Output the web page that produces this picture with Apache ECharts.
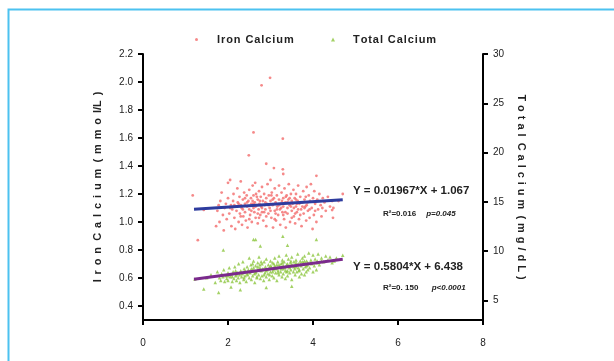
<!DOCTYPE html>
<html>
<head>
<meta charset="utf-8">
<script src="https://cdn.jsdelivr.net/npm/echarts@6/dist/echarts.min.js"></script>
<style>
  html, body { margin: 0; padding: 0; background: #fff; }
  #main { width: 614px; height: 361px; }
</style>
</head>
<body>
<div id="main"></div>
<script>
// tick labels
var xTicks = [0, 2, 4, 6, 8];
var leftTicks = [0.4, 0.6, 0.8, 1.0, 1.2, 1.4, 1.6, 1.8, 2.0, 2.2];
var rightTicks = [5, 10, 15, 20, 25, 30];

// Iron Calcium (mmol/L) vs x
var ironCalcium = [
  [2.99,2.03],[2.79,1.976],[2.6,1.64],[3.29,1.595],[2.49,1.476],[2.9,1.416],[3.08,1.385],[3.29,1.376],
  [3.3,1.343],[4.08,1.33],[1.29,0.87],[1.17,1.19],[1.43,1.086],[3.99,0.95],[4.47,1.03],[4.7,1.2],
  [4.6,1.15],[4.48,1.1],[4.45,1.085],
  [1.72,0.97],[1.75,1.08],[1.78,1.12],[1.8,1.0],[1.82,1.15],[1.85,1.21],[1.88,1.05],[1.9,0.94],
  [1.92,1.1],[1.95,1.13],[1.97,1.02],[2.0,1.17],[2.0,1.28],
  [2.03,1.06],[2.05,1.3],[2.07,1.12],[2.08,0.97],[2.1,1.09],[2.12,1.15],[2.13,1.2],[2.15,1.03],
  [2.17,0.95],[2.18,1.11],[2.2,1.08],[2.22,1.24],[2.23,1.14],[2.25,1.0],[2.27,1.18],[2.28,1.06],
  [2.3,1.12],[2.3,1.29],
  [2.32,1.1],[2.33,0.98],[2.35,1.16],[2.36,1.04],[2.38,1.21],[2.4,1.13],[2.4,1.07],[2.42,1.01],
  [2.44,1.19],[2.45,1.11],[2.46,0.96],[2.48,1.15],[2.5,1.09],[2.5,1.23],[2.52,1.05],[2.54,1.17],
  [2.55,1.13],[2.56,1.0],[2.58,1.26],[2.6,1.1],[2.6,1.19],
  [2.62,1.07],[2.63,1.14],[2.64,1.28],[2.65,1.03],[2.66,1.2],[2.68,1.12],[2.7,1.16],[2.7,0.99],
  [2.72,1.09],[2.73,1.22],[2.74,1.13],[2.76,1.05],[2.77,1.18],[2.78,1.11],[2.8,1.25],[2.8,1.07],
  [2.82,1.15],[2.83,1.01],[2.85,1.2],[2.86,1.12],[2.88,1.09],[2.9,1.17],[2.9,0.97],
  [2.92,1.13],[2.93,1.27],[2.95,1.06],[2.96,1.19],[2.98,1.1],[3.0,1.15],[3.0,1.3],[3.02,1.03],
  [3.03,1.21],[3.05,1.12],[3.06,0.96],[3.08,1.17],[3.1,1.08],[3.1,1.24],[3.12,1.14],[3.13,1.01],
  [3.15,1.19],[3.16,1.11],[3.18,1.05],[3.2,1.16],[3.2,1.26],
  [3.22,1.09],[3.23,0.98],[3.25,1.13],[3.26,1.21],[3.28,1.07],[3.3,1.17],[3.3,1.11],[3.32,1.02],
  [3.33,1.24],[3.35,1.14],[3.36,0.96],[3.38,1.19],[3.4,1.1],[3.4,1.06],[3.42,1.16],[3.43,1.27],
  [3.45,1.12],[3.46,1.0],[3.48,1.2],[3.5,1.08],[3.5,1.15],
  [3.52,1.13],[3.54,1.23],[3.55,1.04],[3.57,1.17],[3.58,0.99],[3.6,1.11],[3.6,1.2],[3.62,1.07],
  [3.64,1.15],[3.65,1.26],[3.67,1.02],[3.68,1.13],[3.7,1.18],[3.72,1.09],[3.73,0.97],[3.75,1.14],
  [3.77,1.22],[3.78,1.06],[3.8,1.16],
  [3.82,1.11],[3.84,1.01],[3.85,1.25],[3.87,1.14],[3.88,1.08],[3.9,1.19],[3.92,1.03],[3.93,1.15],
  [3.95,1.27],[3.97,1.1],[4.0,1.17],[4.02,1.05],[4.03,1.22],[4.05,1.13],[4.08,1.0],[4.1,1.16],
  [4.12,1.09],[4.15,1.2],[4.18,1.12],[4.2,1.04],[4.23,1.17],[4.27,1.14],[4.3,1.08],[4.35,1.18],
  [4.4,1.11],[4.45,1.15],
  [2.35,1.09],[2.45,1.14],[2.55,1.08],[2.65,1.11],[2.75,1.15],[2.85,1.07],[2.95,1.12],[3.05,1.16],
  [3.15,1.09],[3.25,1.1],[3.35,1.07],[3.45,1.17],[3.55,1.1],[3.65,1.09],[3.75,1.11],[3.85,1.12],
  [2.4,1.17],[2.6,1.13],[2.8,1.1],[3.0,1.08],[3.2,1.12],[3.4,1.14],[3.6,1.16],[3.8,1.1],
  [2.3,1.04],[2.5,1.02],[2.7,1.06],[2.9,1.04],[3.1,1.02],[3.3,1.05],[3.5,1.03],[3.7,1.05],
  [2.25,1.13],[2.68,1.18],[3.02,1.19],[3.36,1.18],[3.62,1.13],[3.92,1.09],[2.15,1.12],[4.05,1.08],
  [2.58,1.15],[3.12,1.06],[3.48,1.11],[2.88,1.14],[3.27,1.15],[2.73,1.03],[3.58,1.06],[3.83,1.18],
  [2.05,1.1],[4.22,1.1]
];

// Total Calcium (mg/dL) vs x
var totalCalcium = [
  [2.6,11.16],[2.65,11.16],[3.29,11.5],[4.08,11.16],[2.76,10.5],[1.89,10.1],[3.4,10.6],[1.43,6.15],
  [1.78,5.78],[2.07,6.35],[2.29,6.08],[2.9,6.3],[3.5,6.42],[4.7,9.56],
  [1.22,7.15],[1.5,7.3],[1.6,7.6],[1.7,6.8],[1.75,7.9],[1.8,7.3],
  [1.83,7.0],[1.85,7.7],[1.88,7.4],[1.9,8.1],[1.92,6.9],[1.95,7.5],[1.97,7.2],[2.0,7.8],[2.0,7.0],
  [2.03,8.3],[2.05,7.4],[2.08,7.6],[2.1,6.9],
  [2.12,7.9],[2.14,7.2],[2.16,8.4],[2.18,7.5],[2.2,7.0],[2.22,7.8],[2.24,7.3],[2.25,8.7],[2.27,7.6],
  [2.28,6.8],[2.3,8.0],[2.32,7.4],[2.34,7.7],[2.35,8.9],[2.37,7.1],[2.38,8.2],[2.4,7.5],
  [2.42,7.9],[2.43,6.9],[2.45,8.4],[2.46,7.6],[2.48,8.1],[2.5,7.3],[2.5,9.3],[2.52,7.8],[2.54,8.6],
  [2.55,7.1],[2.57,8.0],[2.58,7.5],[2.6,9.0],[2.6,8.3],[2.62,7.7],[2.63,6.8],[2.65,8.5],[2.66,7.9],
  [2.68,7.3],[2.7,8.8],
  [2.7,8.1],[2.72,7.6],[2.73,9.4],[2.75,8.3],[2.76,7.2],[2.78,8.0],[2.8,8.7],[2.8,7.5],[2.82,8.2],
  [2.84,7.0],[2.85,8.9],[2.87,7.8],[2.88,8.4],[2.9,7.4],[2.9,9.2],[2.92,8.1],[2.94,7.7],[2.95,8.6],
  [2.97,7.1],[2.98,8.3],[3.0,7.9],
  [3.0,9.0],[3.02,8.4],[3.04,7.5],[3.05,8.8],[3.07,8.1],[3.08,7.3],[3.1,9.3],[3.1,8.5],[3.12,7.8],
  [3.14,8.2],[3.15,7.0],[3.17,8.9],[3.18,8.0],[3.2,7.6],[3.2,9.5],[3.22,8.4],[3.24,7.9],[3.25,8.7],
  [3.27,7.4],[3.28,9.1],[3.3,8.2],
  [3.3,7.7],[3.32,8.9],[3.34,8.3],[3.35,7.2],[3.37,9.6],[3.38,8.6],[3.4,8.0],[3.4,7.5],[3.42,9.2],
  [3.44,8.4],[3.45,7.8],[3.47,8.8],[3.48,8.1],[3.5,7.1],[3.5,9.4],[3.52,8.5],[3.54,7.9],[3.55,8.9],
  [3.57,8.2],[3.58,7.6],[3.6,9.1],
  [3.6,8.4],[3.62,7.9],[3.64,9.7],[3.65,8.7],[3.67,8.0],[3.68,7.4],[3.7,9.0],[3.72,8.5],[3.73,7.7],
  [3.75,9.3],[3.77,8.2],[3.78,8.8],[3.8,7.6],[3.8,9.5],[3.82,8.4],[3.84,7.9],[3.85,9.0],[3.87,8.6],
  [3.88,8.1],
  [3.9,9.8],[3.92,8.3],[3.95,9.1],[3.97,8.7],[4.0,7.9],[4.0,9.6],[4.03,8.5],[4.05,9.2],[4.08,8.1],
  [4.1,9.0],[4.12,9.7],[4.15,8.6],[4.2,9.3],[4.25,8.9],[4.3,9.5],[4.35,9.1],[4.4,9.4],[4.45,8.8],
  [4.5,9.0],[4.55,9.3],
  [2.3,7.8],[2.4,8.0],[2.5,7.9],[2.6,8.0],[2.7,8.4],[2.8,8.1],[2.9,8.0],[3.0,8.5],[3.1,8.3],
  [3.2,8.6],[3.3,8.5],[3.4,8.7],[3.5,8.6],[3.6,8.8],[3.7,8.7],[3.8,9.0],[2.45,7.7],[2.55,8.2],
  [2.65,7.8],[2.75,8.6],[2.85,7.6],[2.95,8.2],[3.05,7.9],[3.15,8.6],[3.25,8.2],[3.35,8.0],[3.45,8.3],
  [3.55,8.4],[3.65,8.3],[3.75,8.9],[3.85,8.5],[3.95,8.8],[2.2,7.6],[2.1,7.4],[2.0,7.5],[4.1,8.8],
  [4.2,9.0],[2.58,8.7],[2.78,8.9],[3.08,8.7],[3.28,8.8],[3.48,9.0],[2.68,7.4],[2.98,7.6],[3.18,7.8],
  [3.38,7.9],[2.38,7.3],[2.18,8.0],[3.68,8.1],[3.88,8.8]
];

// printed fits: [slope, intercept], over the x range of the data
var ironFit = [0.01967, 1.067];
var totalFit = [0.5804, 6.438];
var fitRange = [1.2, 4.7];

function fitLine(f) {
  return fitRange.map(function (x) { return [x, f[0] * x + f[1]]; });
}
// wide tracking like the original figure
function sp(s, gap) { return s.split('').join(gap); }

var FONT = '"Liberation Sans", Arial, sans-serif';
var HAIR = '\u200A';

var myChart = echarts.init(document.getElementById('main'));

var option = {
  backgroundColor: '#fff',
  animation: false,
  textStyle: { fontFamily: FONT },
  grid: { left: 143, right: 131, top: 54, bottom: 41 },
  legend: [
    {
      left: 190, top: 29,
      data: ['Iron Calcium'],
      icon: 'circle', itemWidth: 3, itemHeight: 3,
      formatter: function (n) { return sp(n, HAIR); },
      textStyle: { fontSize: 11, fontWeight: 'bold', color: '#222', padding: [0, 0, 0, 14] }
    },
    {
      left: 326, top: 29,
      data: ['Total Calcium'],
      icon: 'triangle', itemWidth: 4, itemHeight: 4,
      formatter: function (n) { return sp(n, HAIR); },
      textStyle: { fontSize: 11, fontWeight: 'bold', color: '#222', padding: [0, 0, 0, 13] }
    }
  ],
  xAxis: {
    type: 'value', min: 0, max: 8, interval: 2,
    axisLine: { onZero: false, lineStyle: { color: '#000', width: 2 } },
    axisTick: { length: 5, lineStyle: { color: '#000', width: 2 } },
    axisLabel: { margin: 18, fontSize: 10, color: '#222',
      customValues: xTicks },
    splitLine: { show: false }
  },
  yAxis: [
    {
      type: 'value', min: 0.3, max: 2.2, position: 'left',
      name: sp('Iron', ' ' + HAIR + HAIR) + '  ' + sp('Calcium', ' ' + HAIR + HAIR) + '  ' +
        sp('(mmol', ' ' + HAIR + HAIR) + '/L' + ' ' + HAIR + HAIR + ')',
      nameLocation: 'middle', nameGap: 40,
      nameTextStyle: { fontSize: 11, fontWeight: 'bold', color: '#222' },
      axisLine: { show: true, lineStyle: { color: '#000', width: 2 } },
      axisTick: { show: true, length: 5, lineStyle: { color: '#000', width: 2 },
        customValues: leftTicks },
      axisLabel: { margin: 10, fontSize: 10, color: '#222', customValues: leftTicks,
        formatter: function (v) { return v.toFixed(1); } },
      splitLine: { show: false }
    },
    {
      type: 'value', min: 3, max: 30, position: 'right',
      name: sp('Total', ' ' + HAIR) + '  ' + sp('Calcium', ' ' + HAIR) + '  ' +
        sp('(mg/dL)', ' ' + HAIR),
      nameLocation: 'middle', nameGap: 33, nameRotate: -90,
      nameTextStyle: { fontSize: 11, fontWeight: 'bold', color: '#222' },
      axisLine: { show: true, lineStyle: { color: '#000', width: 2 } },
      axisTick: { show: true, length: 5, lineStyle: { color: '#000', width: 2 },
        customValues: rightTicks },
      axisLabel: { margin: 10, fontSize: 10, color: '#222', customValues: rightTicks },
      splitLine: { show: false }
    }
  ],
  series: [
    {
      name: 'Iron Calcium', type: 'scatter', yAxisIndex: 0,
      symbol: 'circle', symbolSize: 2.8,
      itemStyle: { color: '#f26c6c' },
      data: ironCalcium
    },
    {
      name: 'Total Calcium', type: 'scatter', yAxisIndex: 1,
      symbol: 'triangle', symbolSize: 3.5,
      itemStyle: { color: '#8cc63f' },
      data: totalCalcium
    },
    {
      name: 'fit1', type: 'line', yAxisIndex: 0, z: 5,
      symbol: 'none', silent: true,
      lineStyle: { color: '#2e3c9e', width: 3 },
      data: fitLine(ironFit)
    },
    {
      name: 'fit2', type: 'line', yAxisIndex: 1, z: 5,
      symbol: 'none', silent: true,
      lineStyle: { color: '#7a2a8c', width: 3 },
      data: fitLine(totalFit)
    }
  ],
  graphic: [
    {
      type: 'rect', silent: true, z: -1,
      shape: { x: 8.5, y: 9.5, width: 700, height: 400 },
      style: { fill: 'none', stroke: '#4cc2f0', lineWidth: 2 }
    },
    {
      type: 'text', left: 353, top: 185,
      style: { text: 'Y = 0.01967*X + 1.067', fontSize: 11.5, fontWeight: 'bold',
        fontFamily: FONT, fill: '#222' }
    },
    {
      type: 'text', left: 383, top: 208,
      style: {
        text: '{a|R²=0.016}   {b|p=0.045}',
        fontFamily: FONT, fill: '#222',
        rich: {
          a: { fontSize: 8, fontWeight: 'bold', fontFamily: FONT, fill: '#222' },
          b: { fontSize: 8, fontWeight: 'bold', fontStyle: 'italic', fontFamily: FONT, fill: '#222' }
        }
      }
    },
    {
      type: 'text', left: 353, top: 261,
      style: { text: 'Y = 0.5804*X + 6.438', fontSize: 11.5, fontWeight: 'bold',
        fontFamily: FONT, fill: '#222' }
    },
    {
      type: 'text', left: 383, top: 282,
      style: {
        text: '{a|R²=0. 150}    {b|p<0.0001}',
        fontFamily: FONT, fill: '#222',
        rich: {
          a: { fontSize: 8, fontWeight: 'bold', fontFamily: FONT, fill: '#222' },
          b: { fontSize: 8, fontWeight: 'bold', fontStyle: 'italic', fontFamily: FONT, fill: '#222' }
        }
      }
    }
  ]
};

myChart.setOption(option);
</script>
</body>
</html>
